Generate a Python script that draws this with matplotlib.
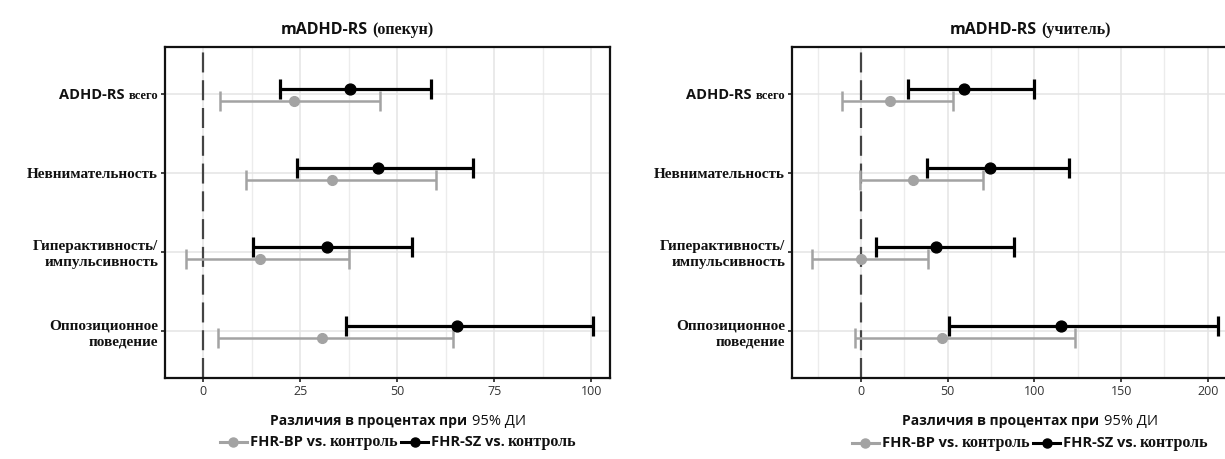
import numpy as np
import matplotlib
matplotlib.use('Agg')
import matplotlib.pyplot as plt
from matplotlib.lines import Line2D
from matplotlib.offsetbox import TextArea, DrawingArea, HPacker, AnchoredOffsetbox

# категории (сверху вниз)
categories = ['всего', 'Невнимательность', 'Гиперактивность/\nимпульсивность',
              'Оппозиционное\nповедение']

# mADHD-RS (опекун): оценка, нижняя и верхняя граница 95% ДИ
care_bp_est = [23.4, 33.3, 14.6, 30.7]
care_bp_lo = [4.4, 11.1, -4.5, 3.9]
care_bp_hi = [45.6, 59.9, 37.7, 64.3]
care_sz_est = [37.9, 45.1, 31.8, 65.4]
care_sz_lo = [19.8, 24.1, 12.8, 36.7]
care_sz_hi = [58.7, 69.5, 53.9, 100.4]

# mADHD-RS (учитель)
teach_bp_est = [16.9, 29.8, 0.0, 46.6]
teach_bp_lo = [-10.9, -0.8, -28.3, -3.7]
teach_bp_hi = [52.9, 70.2, 38.4, 123.4]
teach_sz_est = [59.2, 74.2, 43.3, 115.4]
teach_sz_lo = [27.0, 38.2, 8.6, 50.7]
teach_sz_hi = [99.9, 119.9, 88.1, 206.0]

SANS = 'Open Sans'
SERIF = 'Liberation Serif'
GRAY = '#a3a3a3'
BLACK = '#000000'
INK = '#111111'

W, H = 1225, 459
fig = plt.figure(figsize=(W / 100, H / 100), dpi=100)
ax_l = fig.add_axes([165 / W, 81 / H, 445 / W, 331 / H])
ax_r = fig.add_axes([792 / W, 81 / H, 447 / W, 331 / H])


def mixed_text(parts, sep=3):
    # parts: list of (text, family, weight, size)
    boxes = [TextArea(t, textprops=dict(family=f, weight=w, fontsize=s, color=INK))
             for t, f, w, s in parts]
    return HPacker(children=boxes, align='baseline', pad=0, sep=sep)


def place(box, x, y):
    ab = AnchoredOffsetbox(loc='center', child=box, pad=0, frameon=False,
                           bbox_to_anchor=(x / W, 1 - y / H),
                           bbox_transform=fig.transFigure, borderpad=0)
    fig.add_artist(ab)


def draw_panel(ax, bp, sz, xlim, ticks, minor):
    y = np.arange(1, 5)
    ax.axvline(0, color='#444444', lw=1.6, ls=(0, (9, 3.5)), zorder=1)
    for (est, lo, hi), col, off, lw, ms in [(bp, GRAY, 0.09, 1.8, 7.0),
                                             (sz, BLACK, -0.065, 2.3, 7.8)]:
        est, lo, hi = map(np.asarray, (est, lo, hi))
        ax.errorbar(est, y + off, xerr=[est - lo, hi - est], fmt='o', color=col,
                    ms=ms, elinewidth=lw, capsize=7.5, capthick=lw, zorder=3)
    ax.set_xticks(ticks)
    ax.set_xticks(minor, minor=True)
    ax.set_xlim(*xlim)
    ax.set_ylim(4.6, 0.4)
    ax.set_xticklabels([str(t) for t in ticks], fontfamily=SANS, fontsize=9,
                       color='#333333')
    ax.set_yticks(y)
    ax.set_yticklabels(categories, fontfamily=SERIF, fontweight='bold',
                       fontsize=11, color=INK, linespacing=1.3)
    ax.get_yticklabels()[0].set_fontsize(9)
    ax.annotate('ADHD-RS ', xy=(0, 0.24), xycoords=ax.get_yticklabels()[0],
                ha='right', va='baseline', family=SANS, weight='bold', fontsize=10.5,
                color=INK)
    ax.grid(True, which='major', color='#e4e4e4', lw=1.1, zorder=0)
    ax.grid(True, which='minor', axis='x', color='#ececec', lw=1.0, zorder=0)
    ax.set_axisbelow(True)
    ax.tick_params(axis='both', which='major', length=3, width=1.2, color='#222222', pad=2)
    ax.tick_params(axis='x', which='minor', length=0)
    for sp in ax.spines.values():
        sp.set_linewidth(1.6)
        sp.set_color(INK)


draw_panel(ax_l, (care_bp_est, care_bp_lo, care_bp_hi),
           (care_sz_est, care_sz_lo, care_sz_hi),
           (-9.8, 104.8), [0, 25, 50, 75, 100], np.arange(-12.5, 110, 12.5))
draw_panel(ax_r, (teach_bp_est, teach_bp_lo, teach_bp_hi),
           (teach_sz_est, teach_sz_lo, teach_sz_hi),
           (-39.8, 218), [0, 50, 100, 150, 200], np.arange(-25, 225, 25))

# заголовки
place(mixed_text([('mADHD-RS', SANS, 'bold', 11.5), ('(опекун)', SERIF, 'bold', 11.5)]), 357, 30)
place(mixed_text([('mADHD-RS', SANS, 'bold', 11.5), ('(учитель)', SERIF, 'bold', 11.5)]), 1030, 30)

# подписи оси X
for cx in (398, 1030):
    place(mixed_text([('Различия в процентах при', SANS, 'bold', 10),
                      ('95% ДИ', SANS, 'normal', 10.5)]), cx, 422)


def legend_box():
    items = []
    for col, name in [(GRAY, 'FHR-BP vs.'), (BLACK, 'FHR-SZ vs.')]:
        da = DrawingArea(20, 8, 0, 0)
        da.add_artist(Line2D([0, 20], [4, 4], color=col, lw=2.2))
        da.add_artist(Line2D([10], [4], marker='o', color=col, ms=6.5))
        items.append(da)
        items.append(TextArea(name, textprops=dict(family=SANS, weight='bold',
                                                   fontsize=10.5, color=INK)))
        items.append(TextArea('контроль', textprops=dict(family=SERIF, weight='bold',
                                                         fontsize=11.5, color=INK)))
    return HPacker(children=items, align='center', pad=0, sep=2)


place(legend_box(), 398, 442)
place(legend_box(), 1030, 443)

fig.savefig('out.png', dpi=100)
